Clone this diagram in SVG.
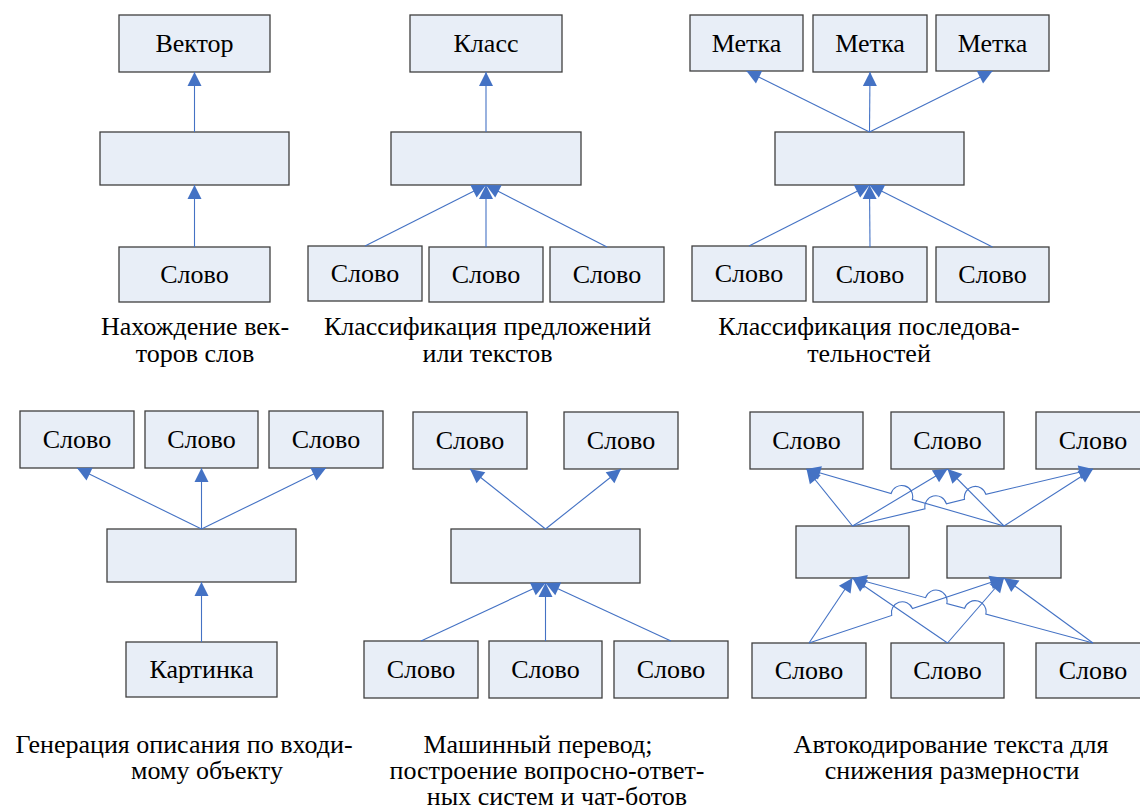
<svg xmlns="http://www.w3.org/2000/svg" width="1140" height="809" viewBox="0 0 1140 809">
<style>
.box{fill:#E8EEF7;stroke:#3F3F3F;stroke-width:1.3}
.t{font-size:26px;fill:#000;text-anchor:middle}
.c{fill:none;stroke:#4472C4;stroke-width:1.1}
.ah{fill:#4472C4}
</style>
<defs>
<path id="arr" class="ah" d="M0,0 L-14,-7 L-14,7 z"/>
</defs>
<rect width="1140" height="809" fill="#fff"/>
<g id="d1-out"><rect class="box" x="119" y="15" width="151" height="57"/><text class="t" font-family="Liberation Serif" x="194.5" y="52">Вектор</text></g>
<g id="d1-mid"><rect class="box" x="100" y="132" width="189" height="53"/></g>
<g id="d1-in"><rect class="box" x="119" y="247" width="151" height="55"/><text class="t" font-family="Liberation Serif" x="194.5" y="283">Слово</text></g>
<g id="d1-cap" font-family="Liberation Serif"><text class="t" x="195" y="334.5">Нахождение век-</text><text class="t" x="195" y="361.5">торов слов</text></g>
<g id="d2-out"><rect class="box" x="410" y="15" width="152" height="57"/><text class="t" font-family="Liberation Serif" x="486" y="52">Класс</text></g>
<g id="d2-mid"><rect class="box" x="391" y="132" width="190" height="53"/></g>
<g id="d2-in1"><rect class="box" x="308" y="246" width="114" height="55"/><text class="t" font-family="Liberation Serif" x="365" y="282">Слово</text></g>
<g id="d2-in2"><rect class="box" x="429" y="247" width="114" height="55"/><text class="t" font-family="Liberation Serif" x="486" y="283">Слово</text></g>
<g id="d2-in3"><rect class="box" x="550" y="247" width="114" height="55"/><text class="t" font-family="Liberation Serif" x="607" y="283">Слово</text></g>
<g id="d2-cap" font-family="Liberation Serif"><text class="t" x="487.5" y="334.5">Классификация предложений</text><text class="t" x="487.5" y="361.5">или текстов</text></g>
<g id="d3-out1"><rect class="box" x="690" y="15" width="113" height="56"/><text class="t" font-family="Liberation Serif" x="746.5" y="52">Метка</text></g>
<g id="d3-out2"><rect class="box" x="813" y="15" width="114" height="57"/><text class="t" font-family="Liberation Serif" x="870" y="52">Метка</text></g>
<g id="d3-out3"><rect class="box" x="936" y="15" width="113" height="56"/><text class="t" font-family="Liberation Serif" x="992.5" y="52">Метка</text></g>
<g id="d3-mid"><rect class="box" x="775" y="132" width="189" height="53"/></g>
<g id="d3-in1"><rect class="box" x="692" y="246" width="114" height="55"/><text class="t" font-family="Liberation Serif" x="749" y="282">Слово</text></g>
<g id="d3-in2"><rect class="box" x="813" y="247" width="114" height="55"/><text class="t" font-family="Liberation Serif" x="870" y="283">Слово</text></g>
<g id="d3-in3"><rect class="box" x="936" y="247" width="113" height="55"/><text class="t" font-family="Liberation Serif" x="992.5" y="283">Слово</text></g>
<g id="d3-cap" font-family="Liberation Serif"><text class="t" x="869" y="334.5">Классификация последова-</text><text class="t" x="869" y="361.5">тельностей</text></g>
<g id="d4-out1"><rect class="box" x="20" y="411" width="114" height="57"/><text class="t" font-family="Liberation Serif" x="77" y="448">Слово</text></g>
<g id="d4-out2"><rect class="box" x="145" y="411" width="113" height="57"/><text class="t" font-family="Liberation Serif" x="201.5" y="448">Слово</text></g>
<g id="d4-out3"><rect class="box" x="269" y="411" width="114" height="57"/><text class="t" font-family="Liberation Serif" x="326" y="448">Слово</text></g>
<g id="d4-mid"><rect class="box" x="107" y="529" width="189" height="53"/></g>
<g id="d4-in"><rect class="box" x="126" y="642" width="151" height="55"/><text class="t" font-family="Liberation Serif" x="201.5" y="678">Картинка</text></g>
<g id="d4-cap" font-family="Liberation Serif"><text class="t" x="184" y="752.5">Генерация описания по входи-</text><text class="t" x="207" y="779">мому объекту</text></g>
<g id="d5-out1"><rect class="box" x="413" y="412" width="114" height="57"/><text class="t" font-family="Liberation Serif" x="470" y="449">Слово</text></g>
<g id="d5-out2"><rect class="box" x="564" y="412" width="114" height="57"/><text class="t" font-family="Liberation Serif" x="621" y="449">Слово</text></g>
<g id="d5-mid"><rect class="box" x="451" y="529" width="189" height="54"/></g>
<g id="d5-in1"><rect class="box" x="364" y="641" width="114" height="57"/><text class="t" font-family="Liberation Serif" x="421" y="678">Слово</text></g>
<g id="d5-in2"><rect class="box" x="489" y="641" width="113" height="57"/><text class="t" font-family="Liberation Serif" x="545.5" y="678">Слово</text></g>
<g id="d5-in3"><rect class="box" x="614" y="641" width="114" height="57"/><text class="t" font-family="Liberation Serif" x="671" y="678">Слово</text></g>
<g id="d5-cap" font-family="Liberation Serif"><text class="t" x="538" y="752.5">Машинный перевод;</text><text class="t" x="547" y="779">построение вопросно-ответ-</text><text class="t" x="557" y="805">ных систем и чат-ботов</text></g>
<g id="d6-out1"><rect class="box" x="750" y="412" width="113" height="57"/><text class="t" font-family="Liberation Serif" x="806.5" y="449">Слово</text></g>
<g id="d6-out2"><rect class="box" x="891" y="412" width="113" height="57"/><text class="t" font-family="Liberation Serif" x="947.5" y="449">Слово</text></g>
<g id="d6-out3"><rect class="box" x="1036" y="412" width="114" height="57"/><text class="t" font-family="Liberation Serif" x="1093" y="449">Слово</text></g>
<g id="d6-mid1"><rect class="box" x="796" y="526" width="113" height="52"/></g>
<g id="d6-mid2"><rect class="box" x="947" y="526" width="114" height="52"/></g>
<g id="d6-in1"><rect class="box" x="752" y="643" width="114" height="55"/><text class="t" font-family="Liberation Serif" x="809" y="679">Слово</text></g>
<g id="d6-in2"><rect class="box" x="891" y="643" width="113" height="55"/><text class="t" font-family="Liberation Serif" x="947.5" y="679">Слово</text></g>
<g id="d6-in3"><rect class="box" x="1036" y="643" width="114" height="55"/><text class="t" font-family="Liberation Serif" x="1093" y="679">Слово</text></g>
<g id="d6-cap" font-family="Liberation Serif"><text class="t" x="951" y="752.5">Автокодирование текста для</text><text class="t" x="952" y="779">снижения размерности</text></g>
<g id="connectors">
<path class="c" d="M194.5,247 L194.5,185"/><use href="#arr" transform="translate(194.5,185) rotate(-90)"/>
<path class="c" d="M194.5,132 L194.5,72"/><use href="#arr" transform="translate(194.5,72) rotate(-90)"/>
<path class="c" d="M486,132 L486,72"/><use href="#arr" transform="translate(486,72) rotate(-90)"/>
<path class="c" d="M365,246 L486,185"/><use href="#arr" transform="translate(486,185) rotate(-26.75)"/>
<path class="c" d="M486,247 L486,185"/><use href="#arr" transform="translate(486,185) rotate(-90)"/>
<path class="c" d="M607,247 L486,185"/><use href="#arr" transform="translate(486,185) rotate(-152.87)"/>
<path class="c" d="M869.5,132 L746.5,71"/><use href="#arr" transform="translate(746.5,71) rotate(-153.62)"/>
<path class="c" d="M869.5,132 L870,72"/><use href="#arr" transform="translate(870,72) rotate(-89.52)"/>
<path class="c" d="M869.5,132 L992.5,71"/><use href="#arr" transform="translate(992.5,71) rotate(-26.38)"/>
<path class="c" d="M749,246 L869.5,185"/><use href="#arr" transform="translate(869.5,185) rotate(-26.85)"/>
<path class="c" d="M870,247 L869.5,185"/><use href="#arr" transform="translate(869.5,185) rotate(-90.46)"/>
<path class="c" d="M992.5,247 L869.5,185"/><use href="#arr" transform="translate(869.5,185) rotate(-153.25)"/>
<path class="c" d="M201.5,529 L77,468"/><use href="#arr" transform="translate(77,468) rotate(-153.9)"/>
<path class="c" d="M201.5,529 L201.5,468"/><use href="#arr" transform="translate(201.5,468) rotate(-90)"/>
<path class="c" d="M201.5,529 L326,468"/><use href="#arr" transform="translate(326,468) rotate(-26.1)"/>
<path class="c" d="M201.5,642 L201.5,582"/><use href="#arr" transform="translate(201.5,582) rotate(-90)"/>
<path class="c" d="M545.5,529 L470,469"/><use href="#arr" transform="translate(470,469) rotate(-141.53)"/>
<path class="c" d="M545.5,529 L621,469"/><use href="#arr" transform="translate(621,469) rotate(-38.47)"/>
<path class="c" d="M421,641 L545.5,583"/><use href="#arr" transform="translate(545.5,583) rotate(-24.98)"/>
<path class="c" d="M545.5,641 L545.5,583"/><use href="#arr" transform="translate(545.5,583) rotate(-90)"/>
<path class="c" d="M671,641 L545.5,583"/><use href="#arr" transform="translate(545.5,583) rotate(-155.2)"/>
<path class="c" d="M852.5,526 L806.5,469"/><use href="#arr" transform="translate(806.5,469) rotate(-128.9)"/>
<path class="c" d="M852.5,526 L947.5,469"/><use href="#arr" transform="translate(947.5,469) rotate(-30.96)"/>
<path class="c" d="M852.5,526 L925,508.8 A11,11 0 0 1 946.4,503.8 L964.5,499.4 A11,11 0 0 1 985.9,494.4 L1093,469"/><use href="#arr" transform="translate(1093,469) rotate(-13.34)"/>
<path class="c" d="M1004,526 L912.3,499.5 A11,11 0 0 0 891.1,493.5 L806.5,469"/><use href="#arr" transform="translate(806.5,469) rotate(-163.85)"/>
<path class="c" d="M1004,526 L947.5,469"/><use href="#arr" transform="translate(947.5,469) rotate(-134.75)"/>
<path class="c" d="M1004,526 L1093,469"/><use href="#arr" transform="translate(1093,469) rotate(-32.64)"/>
<path class="c" d="M809,643 L852.5,578"/><use href="#arr" transform="translate(852.5,578) rotate(-56.21)"/>
<path class="c" d="M809,643 L891.7,615.5 A11,11 0 0 1 912.5,608.5 L1004,578"/><use href="#arr" transform="translate(1004,578) rotate(-18.43)"/>
<path class="c" d="M947.5,643 L852.5,578"/><use href="#arr" transform="translate(852.5,578) rotate(-145.62)"/>
<path class="c" d="M947.5,643 L1004,578"/><use href="#arr" transform="translate(1004,578) rotate(-48.99)"/>
<path class="c" d="M1093,643 L985.8,614.1 A11,11 0 0 0 964.6,608.3 L946.8,603.5 A11,11 0 0 0 925.6,597.7 L852.5,578"/><use href="#arr" transform="translate(852.5,578) rotate(-164.92)"/>
<path class="c" d="M1093,643 L1004,578"/><use href="#arr" transform="translate(1004,578) rotate(-143.86)"/>
</g>
</svg>
